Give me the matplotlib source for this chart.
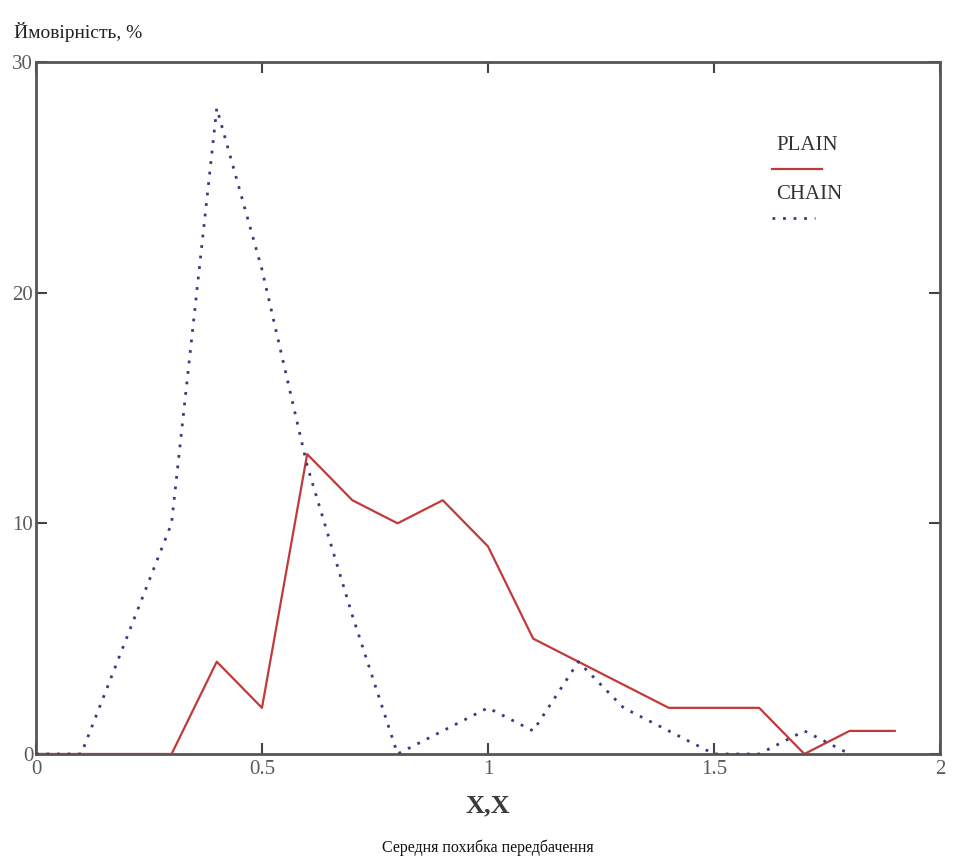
import matplotlib.pyplot as plt
from matplotlib.lines import Line2D

# error values (x axis) and probabilities, %
x_plain = [0.0, 0.1, 0.2, 0.3, 0.4, 0.5, 0.6, 0.7, 0.8, 0.9,
           1.0, 1.1, 1.2, 1.3, 1.4, 1.5, 1.6, 1.7, 1.8, 1.9]
plain = [0, 0, 0, 0, 4, 2, 13, 11, 10, 11,
         9, 5, 4, 3, 2, 2, 2, 0, 1, 1]

x_chain = [0.0, 0.1, 0.2, 0.3, 0.4, 0.5, 0.6, 0.7, 0.8, 0.9,
           1.0, 1.1, 1.2, 1.3, 1.4, 1.5, 1.6, 1.7, 1.8]
chain = [0, 0, 5, 10, 28, 21, 12.5, 6, 0, 1,
         2, 1, 4, 2, 1, 0, 0, 1, 0]

x_ticks = [0, 0.5, 1, 1.5, 2]
x_tick_labels = ['0', '0.5', '1', '1.5', '2']
y_ticks = [0, 10, 20, 30]

plt.rcParams['font.family'] = ['Liberation Serif', 'DejaVu Serif']

fig = plt.figure(figsize=(9.54, 8.61), dpi=100)
ax = fig.add_axes([0.0377, 0.1243, 0.9476, 0.8037])

ax.plot(x_plain, plain, color='#c03a3a', lw=1.6, zorder=3)
ax.plot(x_chain, chain, color='#3a3a80', lw=2.0, linestyle=(0, (1, 2.8)), zorder=4)

ax.set_xlim(0, 2)
ax.set_ylim(0, 30)
ax.set_xticks(x_ticks)
ax.set_xticklabels(x_tick_labels)
ax.set_yticks(y_ticks)
ax.tick_params(direction='in', length=8, width=1.5, color='#444444',
               labelcolor='#5a5a5a', labelsize=15, top=True, right=True, pad=4)
ax.tick_params(axis='y', pad=2)
for sp in ax.spines.values():
    sp.set_color('#555555')
    sp.set_linewidth(2)

# legend, Mathcad style: name above its line sample
ax.text(0.819, 0.880, 'PLAIN', transform=ax.transAxes, fontsize=15,
        color='#333333', va='center', ha='left')
ax.add_line(Line2D([0.814, 0.869], [0.845, 0.845], transform=ax.transAxes,
                   color='#c03a3a', lw=1.6))
ax.text(0.819, 0.808, 'CHAIN', transform=ax.transAxes, fontsize=15,
        color='#333333', va='center', ha='left')
ax.add_line(Line2D([0.814, 0.862], [0.775, 0.775], transform=ax.transAxes,
                   color='#3a3a80', lw=2.0, linestyle=(0, (1, 2.8))))

fig.text(14 / 954, 1 - 32 / 861, 'Ймовірність, %', fontsize=14,
         color='#222222', va='center', ha='left')
fig.text(488 / 954, 1 - 806 / 861, 'X,X', fontsize=19, color='#3a3a3a',
         va='center', ha='center', fontweight='bold')
fig.text(488 / 954, 1 - 848 / 861, 'Середня похибка передбачення', fontsize=11.5,
         color='#111111', va='center', ha='center')

fig.savefig('out.png', dpi=100)
